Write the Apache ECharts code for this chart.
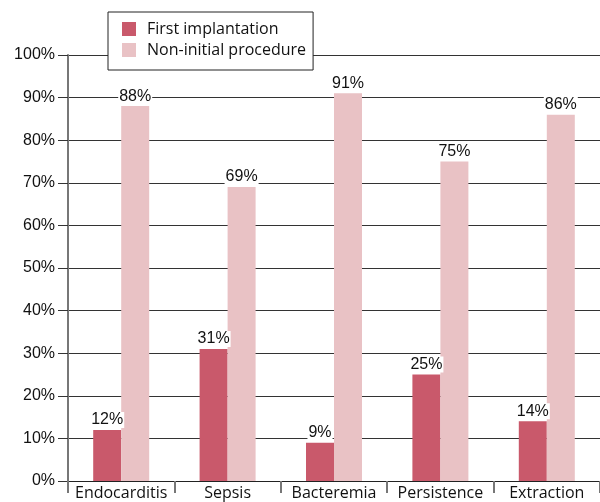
<!DOCTYPE html>
<html>
<head>
<meta charset="utf-8">
<script src="https://cdn.jsdelivr.net/npm/echarts@6/dist/echarts.min.js"></script>
<style>
  html, body { margin: 0; padding: 0; background: #fff; }
  #main { width: 600px; height: 502px; }
</style>
</head>
<body>
<div id="main"></div>
<script>
// values
const categories = ['Endocarditis', 'Sepsis', 'Bacteremia', 'Persistence', 'Extraction']
const firstImplantation = [12, 31, 9, 25, 14]
const nonInitial = [88, 69, 91, 75, 86]
const seriesNames = ['First implantation', 'Non-initial procedure']

let chart = echarts.init(document.getElementById('main'))

let valueLabel = {
  show: true,
  position: 'top',
  distance: 2,
  formatter: '{c}%',
  color: '#111',
  fontFamily: 'Liberation Sans',
  fontSize: 16,
  backgroundColor: '#fff',
  padding: [0, 1]
}

let option = {
  animation: false,
  backgroundColor: '#fff',
  grid: {
    left: 68,
    right: -9,
    top: 55,
    bottom: 21,
    containLabel: false
  },
  legend: {
    orient: 'vertical',
    left: 108,
    top: 12,
    padding: [9, 7, 12, 14],
    itemWidth: 14,
    itemHeight: 14,
    itemGap: 5,
    icon: 'rect',
    backgroundColor: '#fff',
    borderColor: '#222',
    borderWidth: 1,
    borderRadius: 0,
    textStyle: {
      fontFamily: 'Open Sans',
      fontSize: 16,
      color: '#111',
      padding: [0, 0, 0, 6]
    },
    data: seriesNames
  },
  xAxis: {
    type: 'category',
    data: categories,
    axisLine: { lineStyle: { color: '#222', width: 1 } },
    axisTick: { show: true, length: 12, lineStyle: { color: '#777', width: 2 } },
    axisLabel: {
      interval: 0,
      hideOverlap: false,
      margin: 4,
      color: '#111',
      fontFamily: 'Open Sans',
      fontSize: 16
    }
  },
  yAxis: {
    type: 'value',
    min: 0,
    max: 100,
    interval: 10,
    axisLine: { show: true, lineStyle: { color: '#777', width: 2 } },
    axisTick: { show: true, length: 10, lineStyle: { color: '#333', width: 1 } },
    splitLine: { lineStyle: { color: '#333', width: 1 } },
    axisLabel: {
      formatter: '{value}%',
      margin: 13,
      color: '#111',
      fontFamily: 'Liberation Sans',
      fontSize: 16
    }
  },
  series: [
    {
      name: seriesNames[0],
      type: 'bar',
      data: firstImplantation,
      barWidth: 28,
      barGap: '0%',
      itemStyle: { color: '#c9596b' },
      label: valueLabel
    },
    {
      name: seriesNames[1],
      type: 'bar',
      data: nonInitial,
      barWidth: 28,
      itemStyle: { color: '#e9c2c5' },
      label: valueLabel
    }
  ]
}

option && chart.setOption(option)
</script>
</body>
</html>
